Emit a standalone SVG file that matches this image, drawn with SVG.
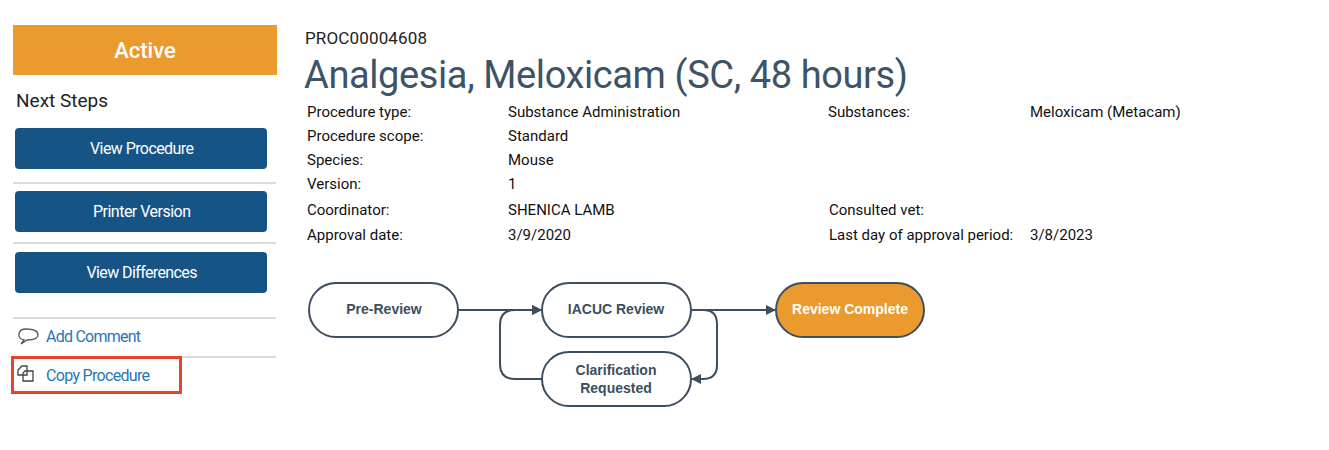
<svg xmlns="http://www.w3.org/2000/svg" width="1329" height="450" viewBox="0 0 1329 450">
<style>
text{font-family:Roboto,"Liberation Sans",sans-serif}
.btn{fill:#175486}
.bt{fill:#fff;font-size:16px;text-anchor:middle}
.sep{stroke:#cfcfcf;stroke-width:1.5}
.lbl{fill:#111;font-size:15px}
.node{fill:#fff;stroke:#3c4e60;stroke-width:2}
.nt{fill:#3c4e60;font-size:14px;font-weight:bold;text-anchor:middle;font-family:"Liberation Sans",Arial,sans-serif}
.ln{stroke:#3c4e60;stroke-width:2;fill:none}
.link{fill:#2a75b3;font-size:16px}
</style>
<defs><marker id="ah" markerWidth="10" markerHeight="10" refX="9" refY="5" orient="auto" markerUnits="userSpaceOnUse"><path d="M0,0 L10,5 L0,10 z" fill="#3c4e60"/></marker></defs>
<rect width="1329" height="450" fill="#fff"/>
<g id="status"><rect x="13" y="25" width="264" height="50" fill="#eb9a2e"/><text x="145" y="58" fill="#fff" font-size="22" text-anchor="middle" font-weight="500">Active</text></g>
<text x="16" y="107" font-size="19" fill="#222">Next Steps</text>
<g id="b1"><rect class="btn" x="15" y="128" width="252" height="41" rx="4"/><text class="bt" x="142" y="154" textLength="104">View Procedure</text></g>
<line class="sep" x1="13" y1="183" x2="276" y2="183"/>
<g id="b2"><rect class="btn" x="15" y="191" width="252" height="41" rx="4"/><text class="bt" x="142" y="217" textLength="98">Printer Version</text></g>
<line class="sep" x1="13" y1="243" x2="276" y2="243"/>
<g id="b3"><rect class="btn" x="15" y="252" width="252" height="41" rx="4"/><text class="bt" x="142" y="278" textLength="111">View Differences</text></g>
<line class="sep" x1="13" y1="318" x2="276" y2="318"/>
<g id="comment"><path d="M26,329 c-8,0 -10,9 -2,11 l-3,4 l6,-4 c8,0 11,-2 11,-5 c0,-4 -5,-6 -12,-6z" fill="none" stroke="#555" stroke-width="1.3"/><text class="link" x="46" y="342" textLength="95">Add Comment</text></g>
<line class="sep" x1="13" y1="357" x2="276" y2="357"/>
<g id="copy"><rect x="12.5" y="357.5" width="168" height="35" fill="none" stroke="#e8432f" stroke-width="3"/>
<path d="M18,370 l4,-4 h5 v9 h-9z M25,371 h8 v10 h-10 v-8z" fill="none" stroke="#444" stroke-width="1.3"/><text class="link" x="46" y="381" textLength="104">Copy Procedure</text></g>
<text x="305" y="44" font-size="17" fill="#222" textLength="122">PROC00004608</text>
<text x="304" y="88" font-size="38" fill="#3c5368" textLength="604">Analgesia, Meloxicam (SC, 48 hours)</text>
<g id="meta">
<text class="lbl" x="307" y="117">Procedure type:</text><text class="lbl" x="508" y="117">Substance Administration</text>
<text class="lbl" x="828" y="117">Substances:</text><text class="lbl" x="1030" y="117">Meloxicam (Metacam)</text>
<text class="lbl" x="307" y="141">Procedure scope:</text><text class="lbl" x="508" y="141">Standard</text>
<text class="lbl" x="307" y="165">Species:</text><text class="lbl" x="508" y="165">Mouse</text>
<text class="lbl" x="307" y="189">Version:</text><text class="lbl" x="508" y="189">1</text>
<text class="lbl" x="307" y="215">Coordinator:</text><text class="lbl" x="508" y="215">SHENICA LAMB</text>
<text class="lbl" x="829" y="215">Consulted vet:</text>
<text class="lbl" x="307" y="240">Approval date:</text><text class="lbl" x="508" y="240">3/9/2020</text>
<text class="lbl" x="829" y="240">Last day of approval period:</text><text class="lbl" x="1030" y="240">3/8/2023</text>
</g>
<g id="connectors">
<line class="ln" x1="458" y1="310" x2="541" y2="310" marker-end="url(#ah)"/>
<path class="ln" d="M542,379 H515 Q500,379 500,364 V325 Q500,310 515,310 H541" marker-end="url(#ah)"/>
<line class="ln" x1="691" y1="310" x2="775" y2="310" marker-end="url(#ah)"/>
<path class="ln" d="M691,310 H703 Q717,310 717,324 V365 Q717,379 703,379 H692" marker-end="url(#ah)"/>
</g>
<g id="n1"><rect class="node" x="309" y="283" width="149" height="54" rx="27"/><text class="nt" x="384" y="314">Pre-Review</text></g>
<g id="n2"><rect class="node" x="542" y="283" width="149" height="54" rx="27"/><text class="nt" x="616" y="314">IACUC Review</text></g>
<g id="n3"><rect class="node" x="776" y="283" width="148" height="54" rx="27" style="fill:#eb9a2e"/><text class="nt" x="850" y="314" style="fill:#fff">Review Complete</text></g>
<g id="n4"><rect class="node" x="542" y="352" width="149" height="54" rx="27"/><text class="nt" x="616" y="375">Clarification</text><text class="nt" x="616" y="393">Requested</text></g>
</svg>
